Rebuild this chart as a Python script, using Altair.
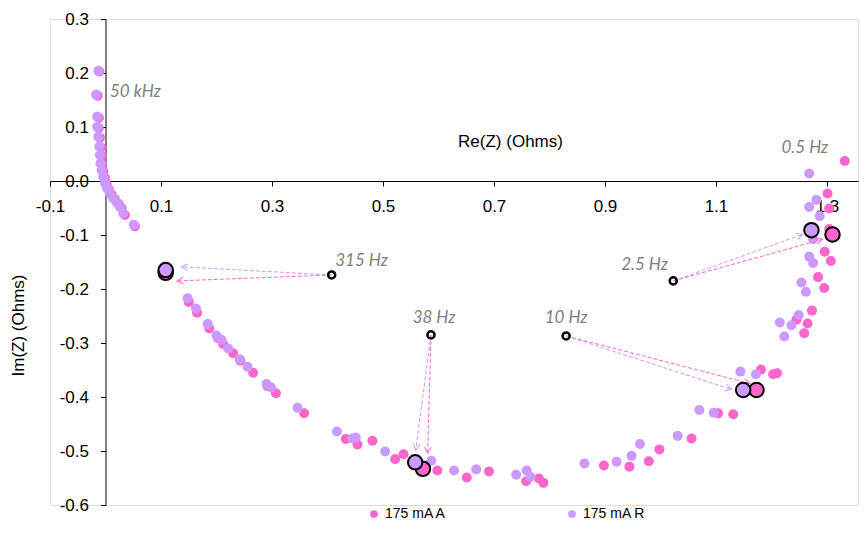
import math
import altair as alt
import pandas as pd

PINK = "#FF66CC"
LAV = "#CC99FF"
SER_A = "175 mA A"
SER_R = "175 mA R"

# ---- series 175 mA A (pink) ----
a_x = [-0.011, -0.014, -0.012, -0.012, -0.010, -0.008, -0.007, -0.006, -0.004, -0.001,
       0.002, 0.006, 0.011, 0.017, 0.024, 0.029, 0.035, 0.053,
       0.1085, 0.150, 0.165, 0.187, 0.203, 0.212, 0.230, 0.243, 0.266, 0.292, 0.307, 0.358,
       0.433, 0.454, 0.481, 0.522, 0.537, 0.572, 0.598, 0.651, 0.691, 0.758, 0.781, 0.789,
       0.898, 0.944, 0.979, 0.998, 1.056, 1.104, 1.131, 1.173, 1.181, 1.203, 1.210,
       1.245, 1.265, 1.259, 1.273, 1.284, 1.295, 1.296, 1.307, 1.304, 1.310, 1.301, 1.304, 1.332]
a_y = [0.203, 0.158, 0.117, 0.098, 0.080, 0.062, 0.046, 0.031, 0.018, 0.006,
       -0.006, -0.016, -0.025, -0.034, -0.043, -0.050, -0.063, -0.084,
       -0.170, -0.224, -0.244, -0.273, -0.291, -0.302, -0.319, -0.333, -0.355, -0.380, -0.393, -0.430,
       -0.478, -0.488, -0.481, -0.515, -0.506, -0.533, -0.536, -0.549, -0.538, -0.556, -0.551, -0.559,
       -0.527, -0.529, -0.519, -0.497, -0.477, -0.430, -0.432, -0.387, -0.349, -0.358, -0.356,
       -0.257, -0.264, -0.282, -0.240, -0.178, -0.198, -0.131, -0.148, -0.089, -0.099, -0.023, -0.051, 0.037]

# ---- series 175 mA R (lavender) ----
r_x = [-0.013, -0.017, -0.015, -0.015, -0.013, -0.011, -0.010, -0.009, -0.007, -0.004,
       -0.001, 0.003, 0.008, 0.014, 0.021, 0.026, 0.032, 0.051,
       0.1085, 0.148, 0.163, 0.184, 0.200, 0.209, 0.221, 0.242, 0.256, 0.290, 0.298, 0.346,
       0.417, 0.445, 0.451, 0.504, 0.558, 0.587, 0.628, 0.668, 0.740, 0.759, 0.766,
       0.863, 0.921, 0.948, 0.963, 1.031, 1.070, 1.096, 1.149, 1.144, 1.172,
       1.215, 1.223, 1.236, 1.249, 1.254, 1.262, 1.268, 1.275, 1.275, 1.272, 1.268, 1.281, 1.287, 1.268]
r_y = [0.204, 0.160, 0.119, 0.100, 0.082, 0.064, 0.048, 0.033, 0.020, 0.008,
       -0.004, -0.014, -0.023, -0.032, -0.041, -0.048, -0.060, -0.081,
       -0.165, -0.217, -0.236, -0.265, -0.286, -0.294, -0.310, -0.330, -0.344, -0.376, -0.382, -0.420,
       -0.464, -0.477, -0.475, -0.501, -0.521, -0.518, -0.536, -0.534, -0.544, -0.536, -0.548,
       -0.523, -0.520, -0.509, -0.487, -0.472, -0.424, -0.429, -0.387, -0.353, -0.358,
       -0.262, -0.288, -0.267, -0.248, -0.188, -0.205, -0.140, -0.152, -0.108, -0.091, -0.048, -0.035, -0.065, 0.014]

# ---- highlighted frequencies ----
freq_labels = ["315 Hz", "38 Hz", "10 Hz", "2.5 Hz"]
hl_a_x = [0.1085, 0.572, 1.173, 1.310]
hl_a_y = [-0.170, -0.533, -0.387, -0.099]
hl_r_x = [0.1085, 0.558, 1.149, 1.272]
hl_r_y = [-0.165, -0.521, -0.387, -0.091]
ann_x = [0.4075, 0.5865, 0.830, 1.023]
ann_y = [-0.174, -0.285, -0.287, -0.185]
tip_a_x = [0.129, 0.5805, 1.161, 1.292]
tip_a_y = [-0.185, -0.504, -0.375, -0.108]
tip_r_x = [0.137, 0.559, 1.128, 1.256]
tip_r_y = [-0.159, -0.498, -0.386, -0.099]

label_text = ["50 kHz", "315 Hz", "38 Hz", "10 Hz", "2.5 Hz", "0.5 Hz"]
label_x = [0.008, 0.414, 0.592, 0.830, 1.0135, 1.218]
label_y = [0.165, -0.149, -0.254, -0.254, -0.156, 0.0606]
label_align = ["left", "left", "center", "center", "right", "left"]

x_ticks = [-0.1, 0.1, 0.3, 0.5, 0.7, 0.9, 1.1, 1.3]
y_ticks = [-0.6, -0.5, -0.4, -0.3, -0.2, -0.1, 0.0, 0.1, 0.2, 0.3]

X_DOM = [-0.1, 1.3559]
Y_DOM = [-0.6, 0.3]
W, H = 808, 486
PX = W / (X_DOM[1] - X_DOM[0])
PY = H / (Y_DOM[1] - Y_DOM[0])
X0_OFF = (0 - X_DOM[0]) * PX          # pixel position of x=0
Y0_OFF = (Y_DOM[1] - 0) * PY          # pixel position of y=0

pts = pd.DataFrame(
    [{"x": x, "y": y, "series": SER_A} for x, y in zip(a_x, a_y)]
    + [{"x": x, "y": y, "series": SER_R} for x, y in zip(r_x, r_y)]
)
hl = pd.DataFrame(
    [{"x": x, "y": y, "series": SER_A} for x, y in zip(hl_a_x, hl_a_y)]
    + [{"x": x, "y": y, "series": SER_R} for x, y in zip(hl_r_x, hl_r_y)]
)

arrows = []
for i in range(len(freq_labels)):
    for ser, tx, ty in ((SER_A, tip_a_x[i], tip_a_y[i]), (SER_R, tip_r_x[i], tip_r_y[i])):
        dx = (tx - ann_x[i]) * PX
        dy = -(ty - ann_y[i]) * PY
        ang = math.degrees(math.atan2(dy, dx)) % 360
        arrows.append({"x": ann_x[i], "y": ann_y[i], "x2": tx, "y2": ty,
                       "series": ser, "angle": ang})
arrows = pd.DataFrame(arrows)
ann = pd.DataFrame({"x": ann_x, "y": ann_y, "f": freq_labels})
labels = pd.DataFrame({"x": label_x, "y": label_y, "t": label_text, "al": label_align})

xs = alt.Scale(domain=X_DOM, nice=False, zero=False)
ys = alt.Scale(domain=Y_DOM, nice=False, zero=False)
cs = alt.Scale(domain=[SER_A, SER_R], range=[PINK, LAV])

lab_expr = "datum.value < 0 ? '-' + format(-datum.value, '.1f') : format(datum.value, '.1f')"

x_axis = alt.Axis(
    values=x_ticks, labelExpr=lab_expr, orient="bottom", offset=-(H - Y0_OFF),
    grid=False, domainColor="black", tickColor="black", tickSize=5,
    labelFont="Liberation Sans", labelFontSize=17, labelColor="black", labelPadding=12,
    labelFlush=False, labelOverlap=False,
    title="Re(Z) (Ohms)", titleFont="Liberation Sans", titleFontSize=17,
    titleFontWeight="normal", titleColor="black",
    titleX=460, titleY=-40, titleAlign="center", titleBaseline="middle", titleAnchor="start",
)
y_axis = alt.Axis(
    values=y_ticks, labelExpr=lab_expr, orient="left", offset=-X0_OFF,
    grid=False, domainColor="black", tickColor="black", tickSize=5,
    labelFont="Liberation Sans", labelFontSize=17, labelColor="black", labelPadding=12,
    labelFlush=False, labelOverlap=False,
    title="Im(Z) (Ohms)", titleFont="Liberation Sans", titleFontSize=17,
    titleFontWeight="normal", titleColor="black",
    titleX=-87, titleY=306, titleAngle=270, titleAlign="center", titleBaseline="middle",
    titleAnchor="start",
)

points = alt.Chart(pts).mark_circle(size=100, opacity=1).encode(
    x=alt.X("x:Q", scale=xs, axis=x_axis),
    y=alt.Y("y:Q", scale=ys, axis=y_axis),
    color=alt.Color("series:N", scale=cs, legend=alt.Legend(
        title=None, orient="none", direction="horizontal", legendX=317, legendY=488,
        symbolType="circle", symbolSize=60, symbolStrokeWidth=0, columnPadding=118,
        labelFont="Liberation Sans", labelFontSize=14, labelColor="black", labelOffset=4,
        padding=0,
    )),
    order=alt.Order("series:N", sort="ascending"),
)

rules = alt.Chart(arrows).mark_rule(strokeWidth=1, strokeDash=[4, 2]).encode(
    x="x:Q", y="y:Q", x2="x2:Q", y2="y2:Q",
    color=alt.Color("series:N", scale=cs, legend=None),
)
heads = alt.Chart(arrows).mark_point(
    shape="M-1,-0.55L0,0L-1,0.55", filled=False, size=150, strokeWidth=1, opacity=1
).encode(
    x=alt.X("x2:Q"), y=alt.Y("y2:Q"),
    angle=alt.Angle("angle:Q", scale=None),
    color=alt.Color("series:N", scale=cs, legend=None),
)

hl_a = alt.Chart(hl[hl.series == SER_A]).mark_circle(
    size=210, opacity=1, stroke="black", strokeWidth=2
).encode(x="x:Q", y="y:Q", color=alt.Color("series:N", scale=cs, legend=None))
hl_r = alt.Chart(hl[hl.series == SER_R]).mark_circle(
    size=210, opacity=1, stroke="black", strokeWidth=2
).encode(x="x:Q", y="y:Q", color=alt.Color("series:N", scale=cs, legend=None))

ann_pts = alt.Chart(ann).mark_point(
    shape="circle", filled=False, size=50, strokeWidth=2.5, color="black", opacity=1
).encode(x="x:Q", y="y:Q")

def text_layer(al):
    return alt.Chart(labels).transform_filter(alt.datum.al == al).mark_text(
        align=al, baseline="middle", font="Lato", fontSize=17, fontStyle="italic",
        color="#7F7F7F"
    ).encode(x="x:Q", y="y:Q", text="t:N")

chart = alt.layer(
    points, rules, heads, hl_a, hl_r, ann_pts,
    text_layer("left"), text_layer("center"), text_layer("right"),
).properties(
    width=W, height=H,
    autosize=alt.AutoSizeParams(type="none"),
    padding={"left": 42, "top": 11, "right": 2, "bottom": 15},
).configure_view(stroke=None).configure(background="white")

chart.save("out.html", embed_options={"renderer": "svg", "actions": False})
